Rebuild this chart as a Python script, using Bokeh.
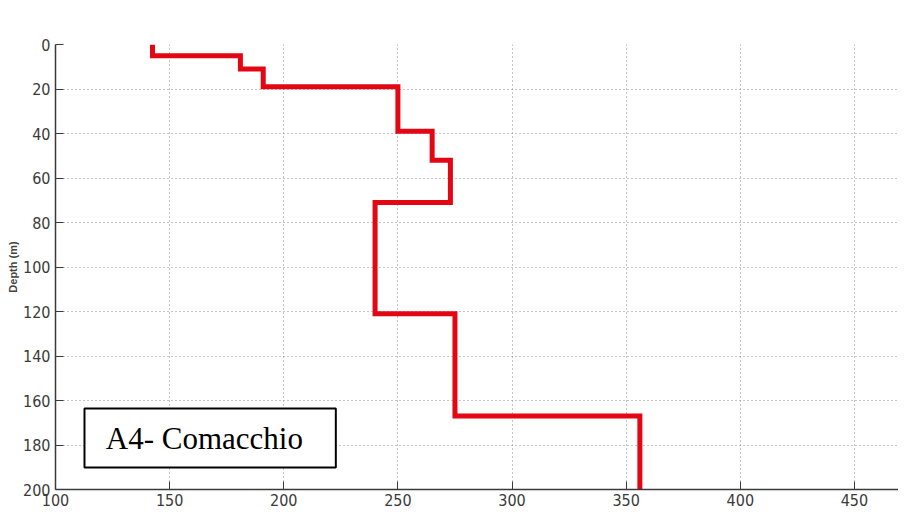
from bokeh.plotting import figure
from bokeh.models import Range1d, FixedTicker, BoxAnnotation, Label
from bokeh.embed import file_html
from bokeh.resources import INLINE

# Layered shear-wave velocity profile
layer_top = [0, 5, 11, 19, 39, 52, 71, 121, 167]
layer_bottom = [5, 11, 19, 39, 52, 71, 121, 167, 200]
velocity = [142.5, 181, 191, 250, 265, 273, 240, 275, 356]

x_ticks = [100, 150, 200, 250, 300, 350, 400, 450, 500]
y_ticks = [0, 20, 40, 60, 80, 100, 120, 140, 160, 180, 200]
y_label = "Depth (m)"
site_name = "A4- Comacchio"

xs, ys = [], []
for v, t, b in zip(velocity, layer_top, layer_bottom):
    xs += [v, v]
    ys += [t, b]

p = figure(width=898, height=508, output_backend="svg", toolbar_location=None,
           x_range=Range1d(100, 469.3), y_range=Range1d(200, 0),
           min_border_left=55, min_border_right=0, min_border_top=44, min_border_bottom=19)
p.outline_line_color = None
p.background_fill_color = "white"
p.border_fill_color = "white"

narrow = "'Liberation Sans Narrow', 'Arial Narrow', 'DejaVu Sans Condensed', sans-serif"
for ax in (p.xaxis[0], p.yaxis[0]):
    ax.axis_line_color = "#3a3a3a"
    ax.axis_line_width = 1.5
    ax.major_tick_line_color = "#3a3a3a"
    ax.major_tick_in = 8
    ax.major_tick_out = 0
    ax.minor_tick_line_color = None
    ax.major_label_text_font = narrow
    ax.major_label_text_font_size = "16px"
    ax.major_label_text_color = "#3a3a3a"

p.xaxis.ticker = FixedTicker(ticks=x_ticks)
p.yaxis.ticker = FixedTicker(ticks=y_ticks)
p.xaxis.major_label_standoff = 4
p.yaxis.major_label_standoff = 5
p.yaxis.axis_label = y_label
p.yaxis.axis_label_text_font = "Liberation Sans"
p.yaxis.axis_label_text_font_style = "bold"
p.yaxis.axis_label_text_font_size = "11px"
p.yaxis.axis_label_text_color = "#444444"
p.yaxis.axis_label_standoff = 1

for g, tk in ((p.xgrid[0], x_ticks), (p.ygrid[0], y_ticks)):
    g.ticker = FixedTicker(ticks=tk)
    g.grid_line_color = "#8a8a8a"
    g.grid_line_dash = "1 3"
    g.grid_line_width = 1

p.line(xs, ys, line_color="#e30613", line_width=5, line_join="miter")

box = BoxAnnotation(left=112.7, right=222.8, top=163.6, bottom=190.1,
                    fill_color="white", fill_alpha=1.0,
                    line_color="black", line_alpha=1.0, line_width=2)
p.add_layout(box)
p.add_layout(Label(x=165.2, y=176.9, text=site_name, text_align="center",
                   text_baseline="middle", text_font="Liberation Serif",
                   text_font_size="31px", text_color="black"))

open("out.html", "w").write(file_html(p, INLINE))
